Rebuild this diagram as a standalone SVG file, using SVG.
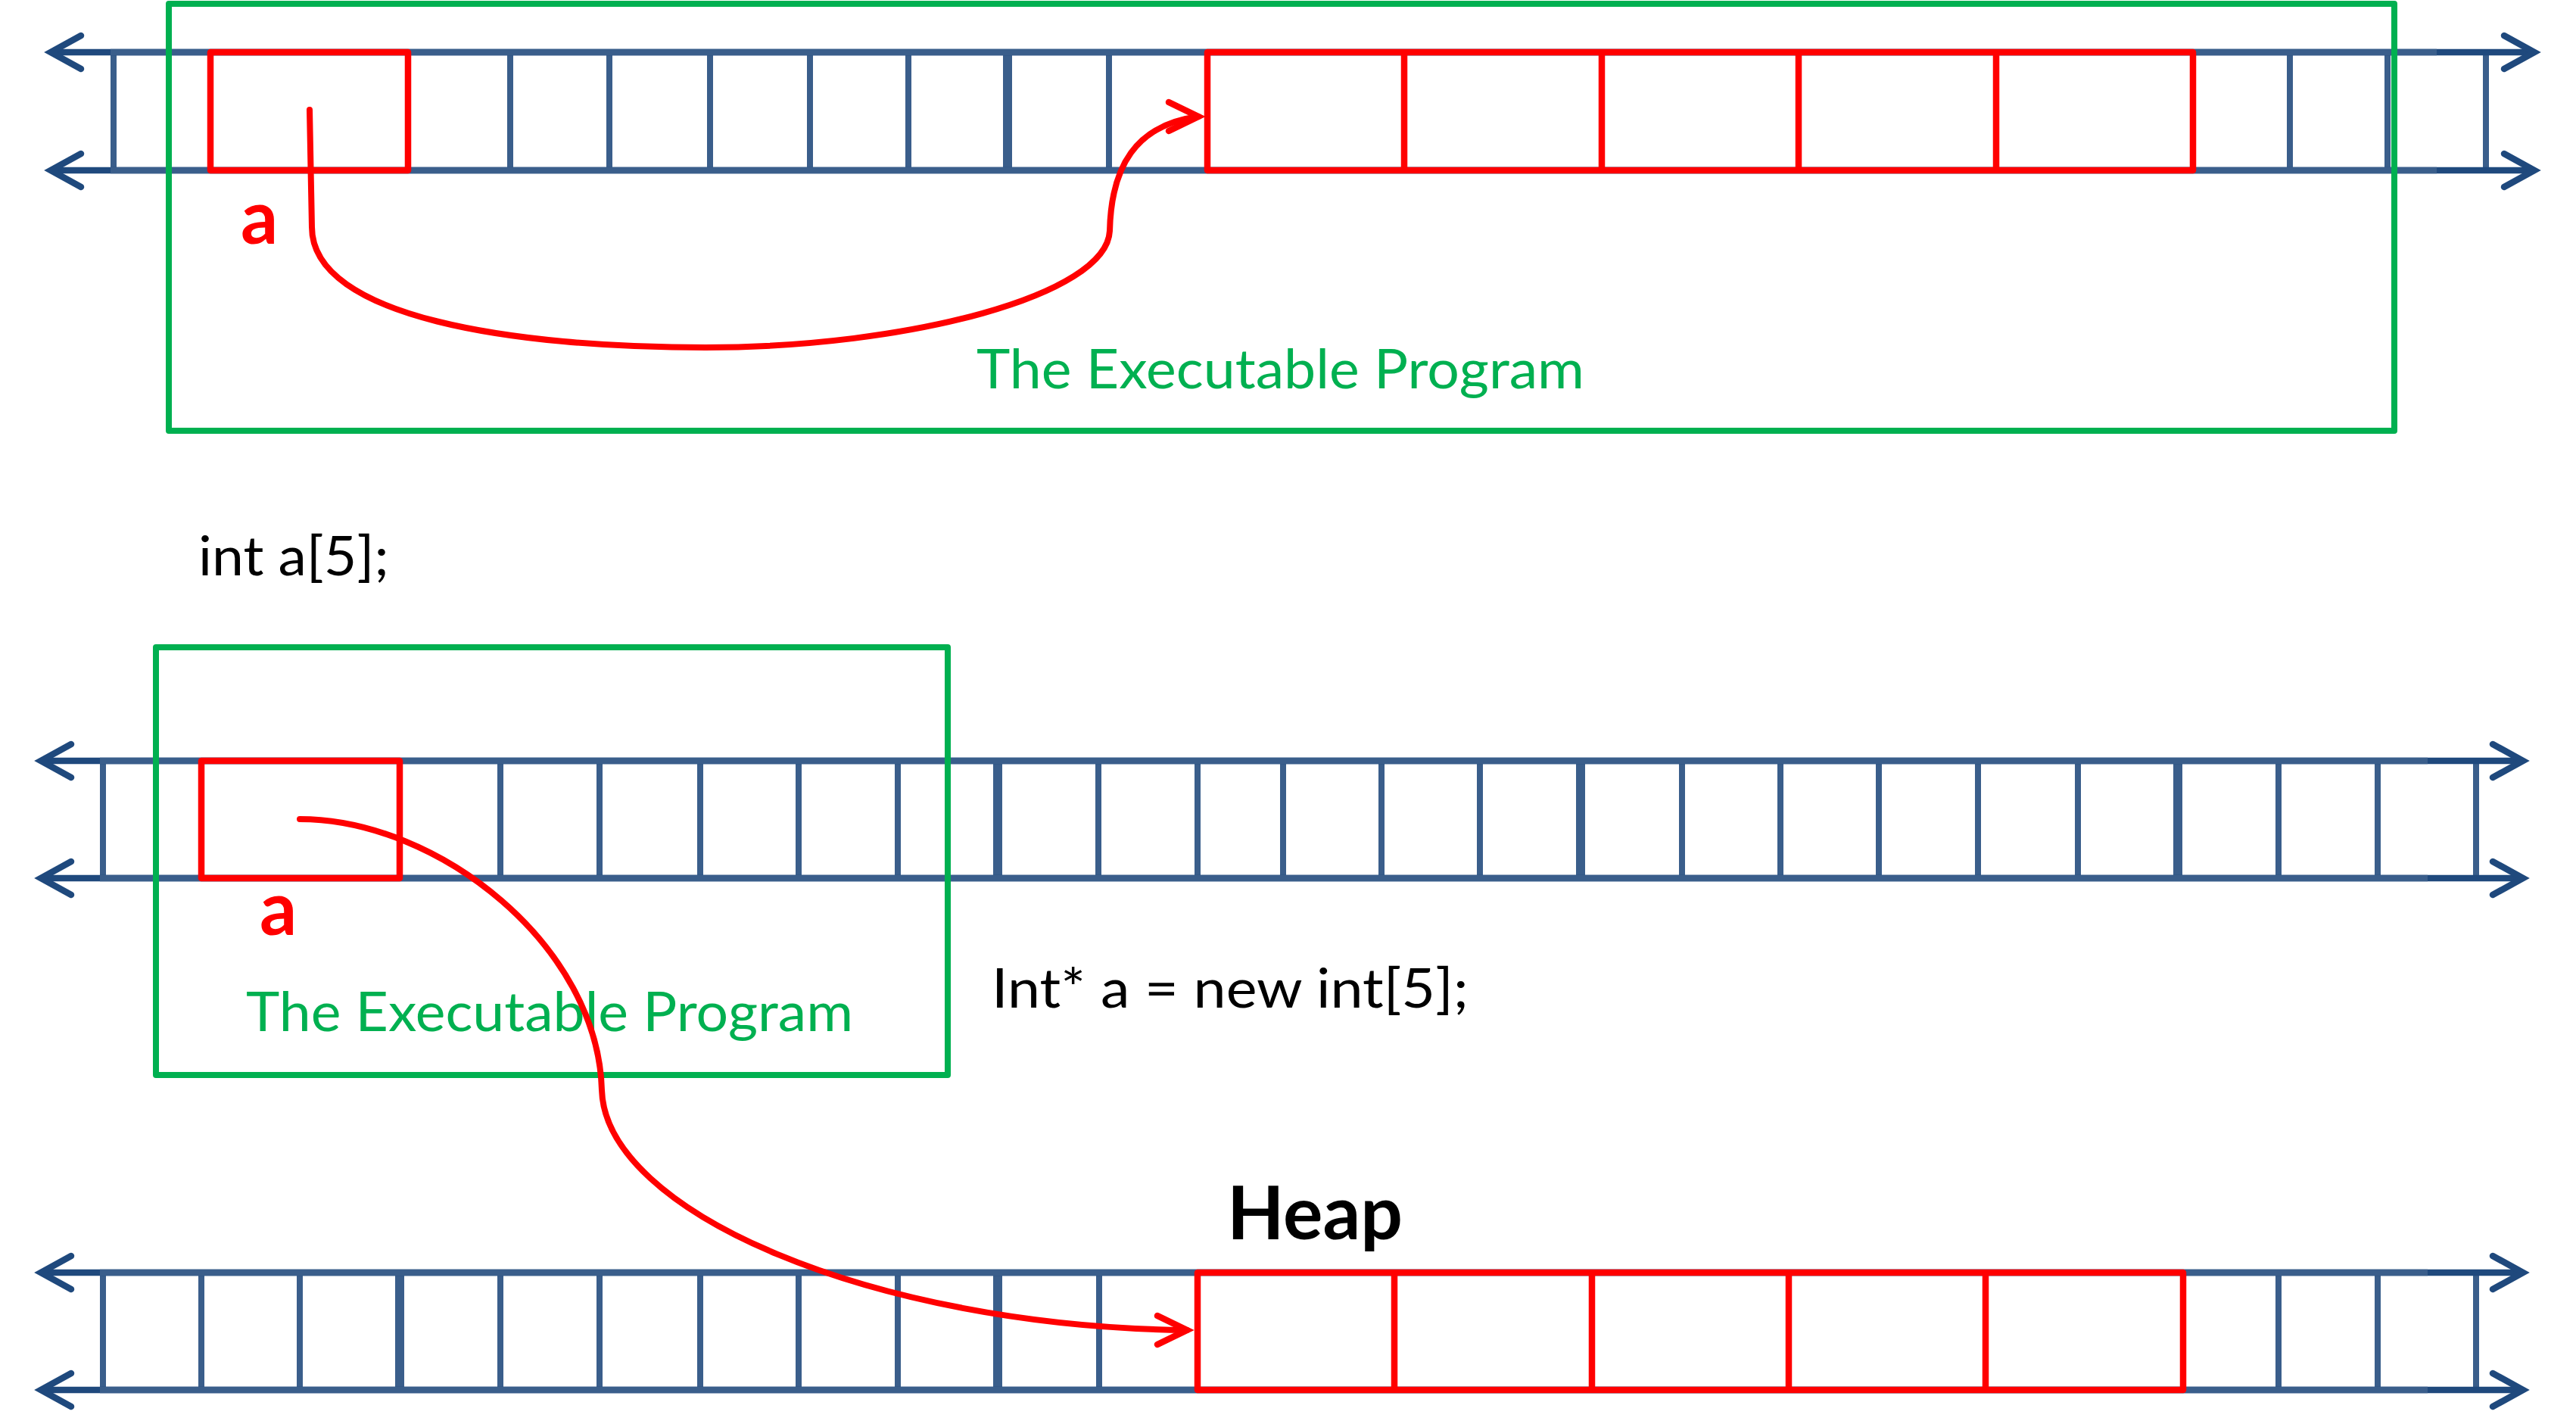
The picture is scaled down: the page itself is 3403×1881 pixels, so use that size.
<svg xmlns="http://www.w3.org/2000/svg" width="3403" height="1881" viewBox="0 0 3403 1881">
<defs>
<style>
.axis{stroke:#1F497D;stroke-width:8.5;fill:none}
.rail{stroke:#3A5E8B;stroke-width:8.5;fill:none}
.cell{stroke:#3A5E8B;stroke-width:8;fill:none}
.thick{stroke-width:12}
.alloc{stroke:#FF0000;stroke-width:8.5;fill:none;stroke-linejoin:round}
.prog{stroke:#00B050;stroke-width:8;fill:none;stroke-linejoin:round}
.ptr{stroke:#FF0000;stroke-width:8;fill:none;stroke-linecap:round}
.t{font-family:Lato,"Open Sans","Liberation Sans",sans-serif}
.code{font-size:72px;fill:#000000}
.green{font-size:72px;fill:#00B050}
.var{font-size:97px;font-weight:bold;fill:#FF0000}
.heap{font-size:97px;font-weight:bold;fill:#000000}
</style>
<marker id="blueHead" markerUnits="userSpaceOnUse" viewBox="-60 -40 80 80" refX="0" refY="0" markerWidth="80" markerHeight="80" orient="auto-start-reverse" overflow="visible">
<path d="M-40,-22 L0,0 L-40,22" fill="none" stroke="#1F497D" stroke-width="8.5" stroke-linecap="round" stroke-linejoin="miter"/>
</marker>
<marker id="redHead" markerUnits="userSpaceOnUse" viewBox="-60 -40 80 80" refX="0" refY="0" markerWidth="80" markerHeight="80" orient="0" overflow="visible">
<path d="M-39,-19 L0,0 L-39,19" fill="none" stroke="#FF0000" stroke-width="8.5" stroke-linecap="round" stroke-linejoin="miter"/>
</marker>
</defs>
<rect x="0" y="0" width="3403" height="1881" fill="#FFFFFF"/>

<!-- Top strip: int a[5]; -->
<g id="strip-top">
<g class="cell">
<line x1="150" y1="69" x2="150" y2="225"/>
<line x1="674" y1="69" x2="674" y2="225"/>
<line x1="805" y1="69" x2="805" y2="225"/>
<line x1="938" y1="69" x2="938" y2="225"/>
<line x1="1070" y1="69" x2="1070" y2="225"/>
<line x1="1200" y1="69" x2="1200" y2="225"/>
<line class="thick" x1="1331" y1="69" x2="1331" y2="225"/>
<line x1="1465" y1="69" x2="1465" y2="225"/>
<line x1="3025" y1="69" x2="3025" y2="225"/>
<line x1="3154" y1="69" x2="3154" y2="225"/>
<line x1="3284" y1="69" x2="3284" y2="225"/>
</g>
<line class="axis" x1="67" y1="69" x2="3348" y2="69" marker-start="url(#blueHead)" marker-end="url(#blueHead)"/>
<line class="axis" x1="67" y1="225" x2="3348" y2="225" marker-start="url(#blueHead)" marker-end="url(#blueHead)"/>
<line class="rail" x1="146" y1="69" x2="3219" y2="69"/>
<line class="rail" x1="146" y1="225" x2="3219" y2="225"/>
<rect class="alloc" x="278" y="69" width="261" height="156"/>
<rect class="alloc" x="1595" y="69" width="1302" height="156"/>
<g class="alloc">
<line x1="1855" y1="69" x2="1855" y2="225"/>
<line x1="2116" y1="69" x2="2116" y2="225"/>
<line x1="2376" y1="69" x2="2376" y2="225"/>
<line x1="2637" y1="69" x2="2637" y2="225"/>
</g>
</g>

<!-- Middle strip: stack -->
<g id="strip-middle">
<g class="cell">
<line x1="136" y1="1005" x2="136" y2="1160"/>
<line x1="661" y1="1005" x2="661" y2="1160"/>
<line x1="792" y1="1005" x2="792" y2="1160"/>
<line x1="925" y1="1005" x2="925" y2="1160"/>
<line x1="1055" y1="1005" x2="1055" y2="1160"/>
<line x1="1186" y1="1005" x2="1186" y2="1160"/>
<line class="thick" x1="1318" y1="1005" x2="1318" y2="1160"/>
<line x1="1451" y1="1005" x2="1451" y2="1160"/>
<line x1="1582" y1="1005" x2="1582" y2="1160"/>
<line x1="1695" y1="1005" x2="1695" y2="1160"/>
<line x1="1825" y1="1005" x2="1825" y2="1160"/>
<line x1="1955" y1="1005" x2="1955" y2="1160"/>
<line class="thick" x1="2088" y1="1005" x2="2088" y2="1160"/>
<line x1="2222" y1="1005" x2="2222" y2="1160"/>
<line x1="2352" y1="1005" x2="2352" y2="1160"/>
<line x1="2482" y1="1005" x2="2482" y2="1160"/>
<line x1="2613" y1="1005" x2="2613" y2="1160"/>
<line x1="2745" y1="1005" x2="2745" y2="1160"/>
<line class="thick" x1="2877" y1="1005" x2="2877" y2="1160"/>
<line x1="3010" y1="1005" x2="3010" y2="1160"/>
<line x1="3141" y1="1005" x2="3141" y2="1160"/>
<line x1="3271" y1="1005" x2="3271" y2="1160"/>
</g>
<line class="axis" x1="54" y1="1005" x2="3333" y2="1005" marker-start="url(#blueHead)" marker-end="url(#blueHead)"/>
<line class="axis" x1="54" y1="1160" x2="3333" y2="1160" marker-start="url(#blueHead)" marker-end="url(#blueHead)"/>
<line class="rail" x1="132" y1="1005" x2="3207" y2="1005"/>
<line class="rail" x1="132" y1="1160" x2="3207" y2="1160"/>
<rect class="alloc" x="266" y="1005" width="262" height="155"/>
</g>

<!-- Bottom strip: heap -->
<g id="strip-heap">
<g class="cell">
<line x1="136" y1="1681" x2="136" y2="1836"/>
<line x1="266" y1="1681" x2="266" y2="1836"/>
<line x1="396" y1="1681" x2="396" y2="1836"/>
<line class="thick" x1="528" y1="1681" x2="528" y2="1836"/>
<line x1="661" y1="1681" x2="661" y2="1836"/>
<line x1="792" y1="1681" x2="792" y2="1836"/>
<line x1="925" y1="1681" x2="925" y2="1836"/>
<line x1="1055" y1="1681" x2="1055" y2="1836"/>
<line x1="1186" y1="1681" x2="1186" y2="1836"/>
<line class="thick" x1="1318" y1="1681" x2="1318" y2="1836"/>
<line x1="1452" y1="1681" x2="1452" y2="1836"/>
<line x1="3010" y1="1681" x2="3010" y2="1836"/>
<line x1="3141" y1="1681" x2="3141" y2="1836"/>
<line x1="3271" y1="1681" x2="3271" y2="1836"/>
</g>
<line class="axis" x1="54" y1="1681" x2="3333" y2="1681" marker-start="url(#blueHead)" marker-end="url(#blueHead)"/>
<line class="axis" x1="54" y1="1836" x2="3333" y2="1836" marker-start="url(#blueHead)" marker-end="url(#blueHead)"/>
<line class="rail" x1="132" y1="1681" x2="3207" y2="1681"/>
<line class="rail" x1="132" y1="1836" x2="3207" y2="1836"/>
<rect class="alloc" x="1582" y="1681" width="1302" height="155"/>
<g class="alloc">
<line x1="1842" y1="1681" x2="1842" y2="1836"/>
<line x1="2103" y1="1681" x2="2103" y2="1836"/>
<line x1="2363" y1="1681" x2="2363" y2="1836"/>
<line x1="2623" y1="1681" x2="2623" y2="1836"/>
</g>
</g>

<!-- Executable program boxes -->
<g id="program-top">
<rect class="prog" x="223" y="5" width="2940" height="564"/>
<text class="t green" x="1290" y="513" textLength="803" lengthAdjust="spacingAndGlyphs">The Executable Program</text>
</g>
<g id="program-middle">
<rect class="prog" x="206" y="855" width="1046" height="565"/>
<text class="t green" x="325" y="1362" textLength="802" lengthAdjust="spacingAndGlyphs">The Executable Program</text>
</g>

<!-- Labels -->
<g id="label-a-top"><text class="t var" x="318" y="322">a</text></g>
<g id="label-a-middle"><text class="t var" x="343" y="1235">a</text></g>
<g id="label-int-array"><text class="t code" x="262" y="760" textLength="252" lengthAdjust="spacingAndGlyphs">int a[5];</text></g>
<g id="label-new-array"><text class="t code" x="1310" y="1331" textLength="630" lengthAdjust="spacingAndGlyphs">Int* a = new int[5];</text></g>
<g id="label-heap"><text class="t heap" x="1621" y="1637" textLength="232" lengthAdjust="spacingAndGlyphs">Heap</text></g>

<!-- Pointer connectors -->
<g id="connectors">
<path class="ptr" d="M409,145 L412,300 C412,420 680,459 932,459 C1200,459 1462,390 1466,305 C1468,220 1500,165 1583,154" marker-end="url(#redHead)"/>
<path class="ptr" d="M396,1082 C580,1082 790,1250 795,1440 C800,1600 1150,1752 1568,1757" marker-end="url(#redHead)"/>
</g>
</svg>
